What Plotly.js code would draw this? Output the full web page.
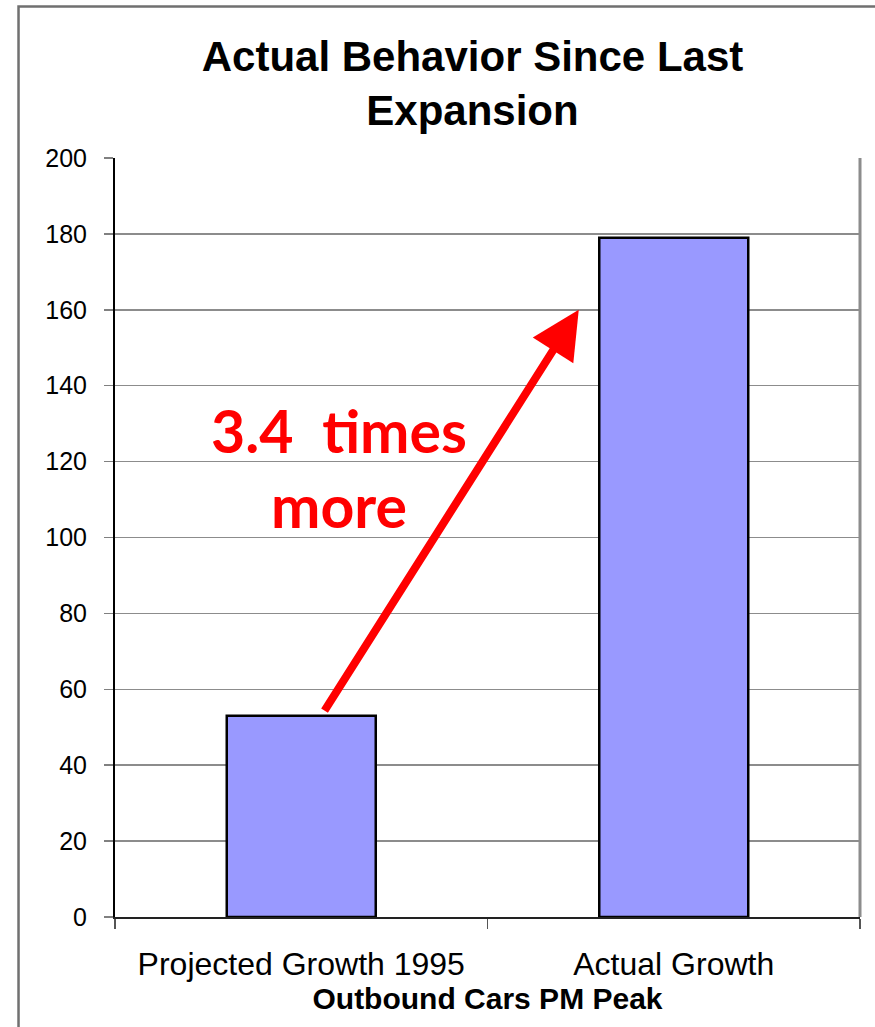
<!DOCTYPE html>
<html>
<head>
<meta charset="utf-8">
<script src="https://cdn.plot.ly/plotly-3.0.1.min.js"></script>
<style>
  html, body { margin: 0; padding: 0; background: #fff; }
  #chart { width: 875px; height: 1027px; }
</style>
</head>
<body>
<div id="chart"></div>
<script>
// ---- data ----
const categories = ["Projected Growth 1995", "Actual Growth"];
const values = [53, 179];
const yTickValues = [0, 20, 40, 60, 80, 100, 120, 140, 160, 180, 200];
const titleText = "Actual Behavior Since Last<br>Expansion";
const xAxisTitle = "Outbound Cars PM Peak";
const calloutLines = ["3.4  times", "more"];
// arrow from the projected bar towards the actual bar (category index, value)
const arrowStart = [0.06, 54];
const arrowEnd = [0.745, 160];

const trace = {
  type: "bar",
  x: categories,
  y: values,
  width: 0.4,
  marker: { color: "#9999FF", line: { color: "#000000", width: 2.5 } },
  hoverinfo: "x+y"
};

const layout = {
  width: 875,
  height: 1027,
  margin: { l: 115, r: 15, t: 158, b: 110 },
  paper_bgcolor: "#ffffff",
  plot_bgcolor: "#ffffff",
  showlegend: false,
  title: {
    text: "<b>" + titleText + "</b>",
    font: { family: "Liberation Sans, Arial, sans-serif", size: 42, color: "#000" },
    x: 0.54, xanchor: "center",
    y: 0.931, yanchor: "middle", yref: "container"
  },
  xaxis: {
    type: "category",
    range: [-0.5, 1.5],
    tickson: "boundaries",
    ticks: "outside",
    ticklen: 10,
    tickcolor: "#555",
    tickwidth: 1.5,
    showline: true,
    linecolor: "#222",
    linewidth: 2,
    showgrid: false,
    zeroline: false,
    ticklabelstandoff: 18,
    tickfont: { family: "Liberation Sans, Arial, sans-serif", size: 32, color: "#000" },
    title: {
      text: "<b>" + xAxisTitle + "</b>",
      font: { family: "Liberation Sans, Arial, sans-serif", size: 30, color: "#000" },
      standoff: 6
    }
  },
  yaxis: {
    range: [0, 200],
    tickvals: yTickValues,
    ticktext: yTickValues.map(String),
    ticks: "outside",
    ticklen: 9,
    tickcolor: "#808080",
    tickwidth: 1.5,
    showline: true,
    linecolor: "#000",
    linewidth: 2,
    showgrid: true,
    gridcolor: "#8c8c8c",
    gridwidth: 1.5,
    zeroline: false,
    ticklabelstandoff: 12,
    tickfont: { family: "Liberation Sans, Arial, sans-serif", size: 25, color: "#000" }
  },
  shapes: [
    // plot area right border
    { type: "line", xref: "paper", yref: "paper", x0: 1, x1: 1, y0: 0, y1: 1,
      line: { color: "#8c8c8c", width: 3 } },
    // outer frame (top & left)
    { type: "path", xref: "paper", yref: "paper",
      path: "M -0.1295 -0.15 L -0.1295 1.1995 L 1.03 1.1995",
      line: { color: "#707070", width: 2.5 } }
  ],
  annotations: [
    {
      xref: "x", yref: "y", axref: "x", ayref: "y",
      x: arrowEnd[0], y: arrowEnd[1],
      ax: arrowStart[0], ay: arrowStart[1],
      text: "", showarrow: true,
      arrowhead: 2, arrowsize: 1.2, arrowwidth: 8, arrowcolor: "#FF0000"
    },
    {
      xref: "x", yref: "y", x: 0.1, y: 128.2, xanchor: "center", yanchor: "middle",
      text: "<b>" + calloutLines[0] + "</b>", showarrow: false,
      font: { family: "Lato, Carlito, sans-serif", size: 59, color: "#FF0000" }
    },
    {
      xref: "x", yref: "y", x: 0.1, y: 108.4, xanchor: "center", yanchor: "middle",
      text: "<b>" + calloutLines[1] + "</b>", showarrow: false,
      font: { family: "Lato, Carlito, sans-serif", size: 59, color: "#FF0000" }
    }
  ]
};

Plotly.newPlot("chart", [trace], layout, { displayModeBar: false, staticPlot: true });
</script>
</body>
</html>
